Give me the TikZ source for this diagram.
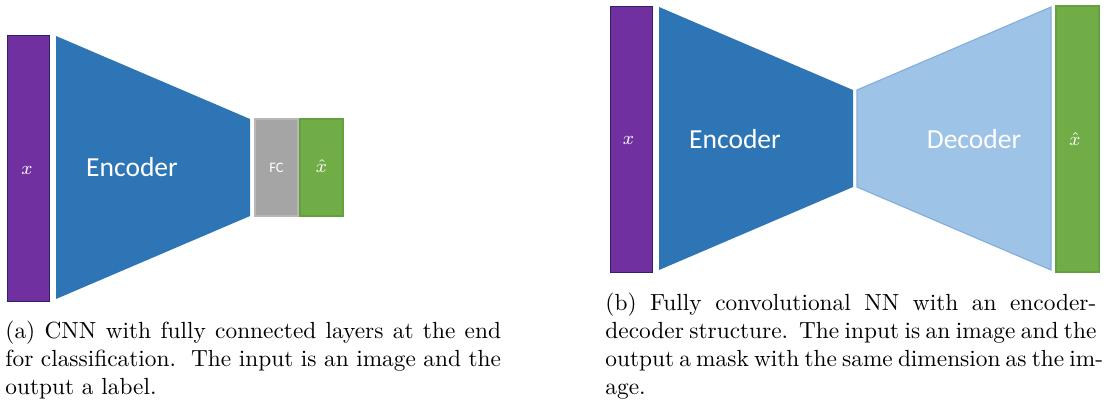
\documentclass[tikz,border=0pt]{standalone}
\usepackage{fontspec}
\newfontfamily\calibri{Carlito}

\definecolor{inpurple}{HTML}{7030A0}
\definecolor{inpurpleline}{HTML}{2E2366}
\definecolor{encblue}{HTML}{2E75B6}
\definecolor{decblue}{HTML}{9DC3E6}
\definecolor{decline}{HTML}{86AEDB}
\definecolor{fcgray}{HTML}{A5A5A5}
\definecolor{outgreen}{HTML}{70AD47}
\definecolor{outgreenline}{HTML}{64A03E}

\newlength{\capwa}\setlength{\capwa}{212.4pt}
\newlength{\capwb}\setlength{\capwb}{210.4pt}

\begin{document}
\begin{tikzpicture}[x=0.4286pt,y=-0.4286pt,
    inputbar/.style={fill=inpurple,draw=inpurpleline,line width=0.4pt},
    encshape/.style={fill=encblue,draw=none},
    decshape/.style={fill=decblue,draw=decline,line width=0.5pt},
    fcbar/.style={fill=fcgray,draw=fcgray!80!white,line width=0.5pt},
    outbar/.style={fill=outgreen,draw=outgreenline,line width=0.5pt},
    blocklabel/.style={text=white,font=\calibri\fontsize{11.8}{13}\selectfont,inner sep=0pt},
    smalllabel/.style={text=white,font=\calibri\fontsize{6.2}{7}\selectfont,inner sep=0pt},
    mathlabel/.style={text=white,font=\fontsize{8}{9}\selectfont,inner sep=0pt},
    captext/.style={anchor=north west,inner sep=0pt,align=left,font=\fontsize{10}{12}\selectfont}]
  \useasboundingbox (0,0) rectangle (1104,401);

  % ---- (a) CNN with fully connected head ----
  \draw[inputbar] (7,35) rectangle (49,301);
  \node[mathlabel] (ax) at (27,170) {$x$};
  \fill[encshape] (56,36) -- (250,119) -- (250,216) -- (56,299) -- cycle;
  \node[blocklabel] (aenc) at (132,167) {Encoder};
  \draw[fcbar] (255,119) rectangle (298,216);
  \node[smalllabel] (afc) at (276.5,167.5) {FC};
  \draw[outbar] (300,119) rectangle (343,216);
  \node[mathlabel] (axhat) at (321.5,166) {$\hat{x}$};

  \node[captext] (capa) at (5,321) {%
    \makebox[\capwa][s]{(a) CNN with fully connected layers at the end}\\
    \makebox[\capwa][s]{for classification.\ \ The input is an image and the}\\
    output a label.};

  % ---- (b) fully convolutional encoder-decoder ----
  \draw[inputbar] (610,6) rectangle (652,272);
  \node[mathlabel] (bx) at (628.5,140) {$x$};
  \fill[encshape] (659,7) -- (853,90) -- (853,187) -- (659,270) -- cycle;
  \node[blocklabel] (benc) at (735,139) {Encoder};
  \draw[decshape] (857,90) -- (1051,7) -- (1051,270) -- (857,187) -- cycle;
  \node[blocklabel] (bdec) at (974,139) {Decoder};
  \draw[outbar] (1056,6) rectangle (1099,272);
  \node[mathlabel] (bxhat) at (1075,139) {$\hat{x}$};

  \node[captext] (capb) at (605,293) {%
    \makebox[\capwb][s]{(b) Fully convolutional NN with an encoder-}\\
    \makebox[\capwb][s]{decoder structure.\ \ The input is an image and the}\\
    \makebox[\capwb][s]{output a mask with the same dimension as the im-}\\
    age.};
\end{tikzpicture}
\end{document}
